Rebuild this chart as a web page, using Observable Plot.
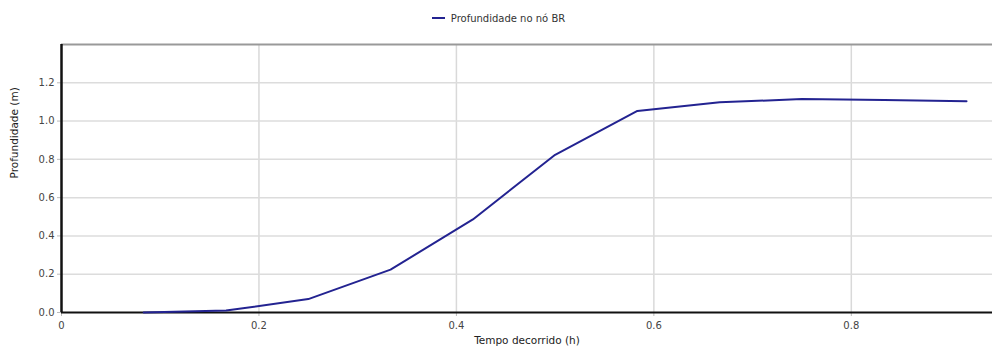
<!DOCTYPE html>
<html>
<head>
<meta charset="utf-8">
<script src="https://cdn.jsdelivr.net/npm/d3@7"></script>
<script src="https://cdn.jsdelivr.net/npm/@observablehq/plot@0.6"></script>
<style>
  html, body { margin: 0; padding: 0; background: #fff; }
  body { width: 992px; height: 350px; overflow: hidden; font-family: "DejaVu Sans", sans-serif; }
  #legend { height: 30px; display: flex; align-items: center; justify-content: center; font-size: 10px; color: #333; }
  #legend .sw { display: inline-block; width: 13px; height: 2px; background: #232391; margin-right: 6px; }
  #legend .item { display: flex; align-items: center; margin-left: 5px; margin-top: 6px; }
  #chart svg { display: block; }
</style>
</head>
<body>
<div id="legend"><div class="item"><span class="sw"></span><span>Profundidade no nó BR</span></div></div>
<div id="chart"></div>
<script>
// Depth at node BR, sampled every 5 minutes
const tempo = [0.0833, 0.1667, 0.25, 0.3333, 0.4167, 0.5, 0.5833, 0.6667, 0.75, 0.8333, 0.9167];
const profundidade = [0.0, 0.01, 0.07, 0.224, 0.486, 0.824, 1.053, 1.098, 1.115, 1.110, 1.103];
const xTicks = [0, 0.2, 0.4, 0.6, 0.8];
const yTicks = [0, 0.2, 0.4, 0.6, 0.8, 1.0, 1.2];

const data = tempo.map((t, i) => ({t, d: profundidade[i]}));

const chart = Plot.plot({
  width: 992,
  height: 320,
  marginLeft: 61,
  marginRight: 0,
  marginTop: 14,
  marginBottom: 38,
  style: {fontFamily: "DejaVu Sans, sans-serif", fontSize: "10px", color: "#444", background: "#fff"},
  x: {domain: [0, 0.943], ticks: xTicks, tickFormat: d => d === 0 ? "0" : d3.format(".1f")(d), label: null, tickSize: 4, tickPadding: 5},
  y: {domain: [0, 1.4], ticks: yTicks, tickFormat: d3.format(".1f"), label: null, tickSize: 4, tickPadding: 3},
  marks: [
    Plot.gridX(xTicks.filter(d => d > 0), {stroke: "#d9d9d9", strokeOpacity: 1, strokeWidth: 1.5}),
    Plot.gridY(yTicks.filter(d => d > 0), {stroke: "#dcdcdc", strokeOpacity: 1, strokeWidth: 1.5}),
    Plot.axisX({ticks: xTicks, tickFormat: d => d === 0 ? "0" : d3.format(".1f")(d), tickSize: 4, tickPadding: 5, stroke: "#bbb", label: null}),
    Plot.axisY({ticks: yTicks, tickFormat: d3.format(".1f"), tickSize: 4, tickPadding: 3, stroke: "#bbb", label: null}),
    Plot.ruleY([1.4], {stroke: "#999", strokeWidth: 2}),
    Plot.ruleY([0], {stroke: "#111", strokeWidth: 2}),
    Plot.ruleX([0], {stroke: "#111", strokeWidth: 2.5}),
    Plot.line(data, {x: "t", y: "d", stroke: "#232391", strokeWidth: 2}),
    Plot.text(["Tempo decorrido (h)"], {frameAnchor: "bottom", dy: 31, fill: "#222", fontSize: 10.5}),
    Plot.text(["Profundidade (m)"], {frameAnchor: "left", dx: -47, rotate: -90, fill: "#222", fontSize: 10.5})
  ]
});
document.getElementById("chart").appendChild(chart);
</script>
</body>
</html>
